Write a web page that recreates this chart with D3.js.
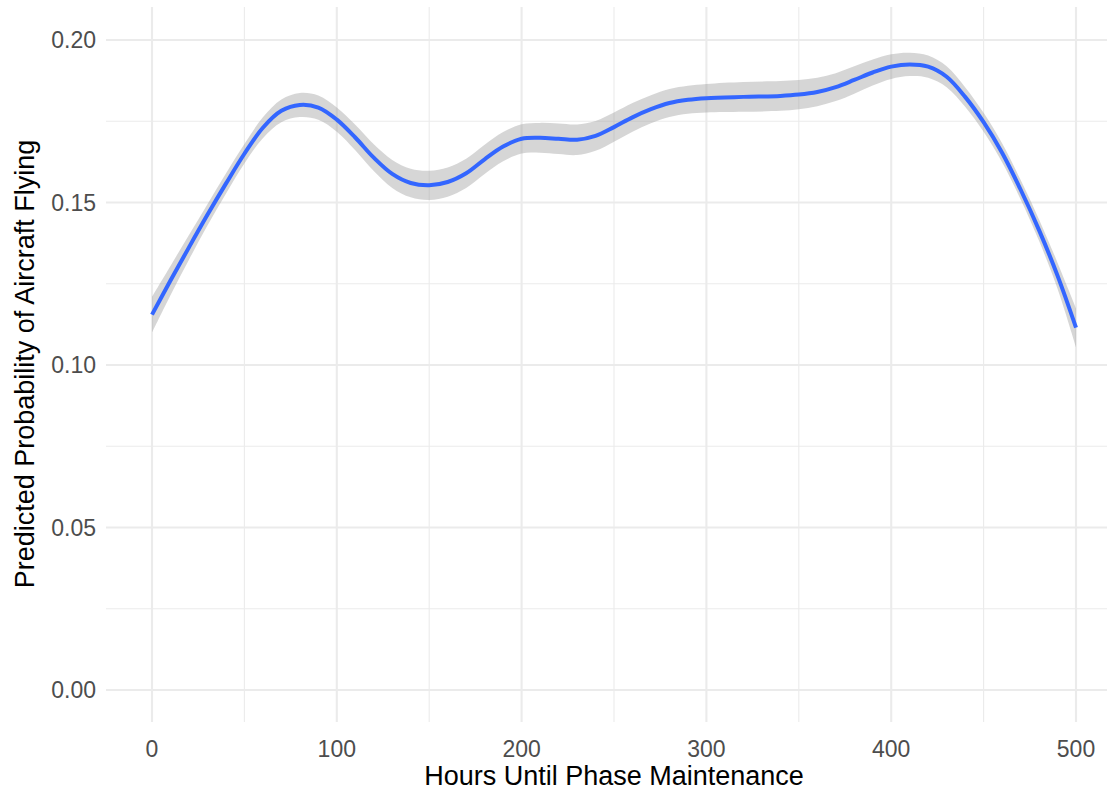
<!DOCTYPE html>
<html>
<head>
<meta charset="utf-8">
<script src="https://cdn.jsdelivr.net/npm/d3@7"></script>
<style>
  html, body { margin: 0; padding: 0; background: #fff; }
  svg { display: block; }
</style>
</head>
<body>
<script>
// Smoothed fit of flying probability against hours until phase maintenance
const hours = [0, 10, 20, 30, 40, 50, 60, 70, 80, 90, 100, 110, 120, 130, 140, 150, 160, 170, 180, 190,
  200, 210, 220, 230, 240, 250, 260, 270, 280, 290, 300, 320, 340, 350, 360, 370, 380, 390, 400, 410,
  420, 430, 440, 450, 460, 470, 480, 490, 500];
const fit = [0.1155, 0.1260, 0.1362, 0.1462, 0.1558, 0.1650, 0.1730, 0.1782, 0.1800, 0.1792, 0.1755,
  0.1700, 0.1638, 0.1588, 0.1560, 0.1553, 0.1563, 0.1590, 0.1633, 0.1672, 0.1696, 0.1699, 0.1696,
  0.1693, 0.1705, 0.1732, 0.1762, 0.1787, 0.1806, 0.1816, 0.1821, 0.1825, 0.1828, 0.1832, 0.1840,
  0.1855, 0.1877, 0.1900, 0.1918, 0.1925, 0.1918, 0.1887, 0.1825, 0.1747, 0.1653, 0.1540, 0.1415,
  0.1275, 0.1115];
// Half-width of the confidence band
const halfBand = [0.0055, 0.0045, 0.0038, 0.0033, 0.0031, 0.0030, 0.0032, 0.0035, 0.0037, 0.0037, 0.0037,
  0.0039, 0.0041, 0.0043, 0.0044, 0.0045, 0.0045, 0.0045, 0.0045, 0.0045, 0.0045, 0.0046, 0.0047,
  0.0047, 0.0046, 0.0045, 0.0044, 0.0043, 0.0043, 0.0043, 0.0044, 0.0046, 0.0046, 0.0045, 0.0044,
  0.0043, 0.0042, 0.0040, 0.0038, 0.0036, 0.0034, 0.0032, 0.0030, 0.0029, 0.0029, 0.0030, 0.0033,
  0.0040, 0.0060];
const xTicks = [0, 100, 200, 300, 400, 500];
const xMinor = [50, 150, 250, 350, 450];
const yTicks = [0.00, 0.05, 0.10, 0.15, 0.20];
const yMinor = [0.025, 0.075, 0.125, 0.175];

const W = 1115, H = 792;
const panel = { left: 106, right: 1107, top: 7, bottom: 722 };

const svg = d3.select("body").append("svg").attr("width", W).attr("height", H);

const x = d3.scaleLinear().domain([0, 500]).range([152, 1076]);
const y = d3.scaleLinear().domain([0, 0.20]).range([690, 40]);

const grid = svg.append("g");
// minor grid
grid.selectAll("line.ymin").data(yMinor).join("line")
  .attr("x1", panel.left).attr("x2", panel.right)
  .attr("y1", d => y(d)).attr("y2", d => y(d))
  .attr("stroke", "#EBEBEB").attr("stroke-width", 1.1);
grid.selectAll("line.xmin").data(xMinor).join("line")
  .attr("y1", panel.top).attr("y2", panel.bottom)
  .attr("x1", d => x(d)).attr("x2", d => x(d))
  .attr("stroke", "#EBEBEB").attr("stroke-width", 1.1);
// major grid
grid.selectAll("line.ymaj").data(yTicks).join("line")
  .attr("x1", panel.left).attr("x2", panel.right)
  .attr("y1", d => y(d)).attr("y2", d => y(d))
  .attr("stroke", "#EBEBEB").attr("stroke-width", 2.1);
grid.selectAll("line.xmaj").data(xTicks).join("line")
  .attr("y1", panel.top).attr("y2", panel.bottom)
  .attr("x1", d => x(d)).attr("x2", d => x(d))
  .attr("stroke", "#EBEBEB").attr("stroke-width", 2.1);

const pts = hours.map((h, i) => ({ h, p: fit[i], s: halfBand[i] }));

const smooth = d3.curveCatmullRom.alpha(0.5);
const area = d3.area()
  .x(d => x(d.h))
  .y0(d => y(d.p - d.s))
  .y1(d => y(d.p + d.s))
  .curve(smooth);
svg.append("path").datum(pts).attr("d", area)
  .attr("fill", "#999999").attr("fill-opacity", 0.4);

const line = d3.line().x(d => x(d.h)).y(d => y(d.p)).curve(smooth);
svg.append("path").datum(pts).attr("d", line)
  .attr("fill", "none").attr("stroke", "#3366FF").attr("stroke-width", 4);

// axis labels
const font = "'Liberation Sans', Arial, Helvetica, sans-serif";
svg.append("g").selectAll("text").data(yTicks).join("text")
  .attr("x", 96).attr("y", d => y(d)).attr("dy", "0.36em")
  .attr("text-anchor", "end").attr("font-family", font).attr("font-size", 23)
  .attr("fill", "#4D4D4D").text(d => d3.format(".2f")(d));
svg.append("g").selectAll("text").data(xTicks).join("text")
  .attr("x", d => x(d)).attr("y", 757)
  .attr("text-anchor", "middle").attr("font-family", font).attr("font-size", 23)
  .attr("fill", "#4D4D4D").text(d => d);

svg.append("text").attr("x", 614).attr("y", 785)
  .attr("text-anchor", "middle").attr("font-family", font).attr("font-size", 27)
  .attr("fill", "#000").text("Hours Until Phase Maintenance");
svg.append("text").attr("transform", "translate(34,364) rotate(-90)")
  .attr("text-anchor", "middle").attr("font-family", font).attr("font-size", 27)
  .attr("fill", "#000").text("Predicted Probability of Aircraft Flying");
</script>
</body>
</html>
